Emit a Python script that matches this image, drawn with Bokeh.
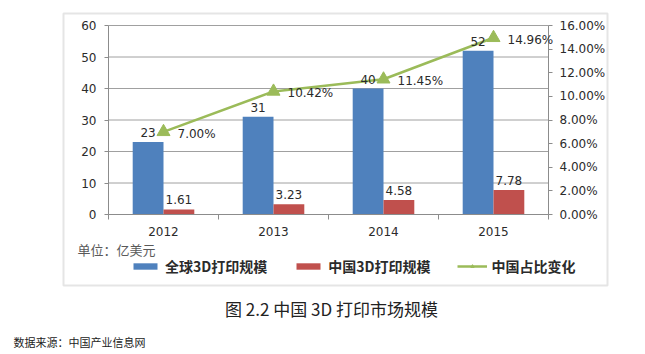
from bokeh.plotting import figure
from bokeh.models import (Range1d, LinearAxis, FixedTicker, PrintfTickFormatter,
                          ColumnDataSource, LabelSet, Label, Legend, LegendItem, BoxAnnotation)
from bokeh.core.properties import value
from bokeh.embed import file_html
from bokeh.resources import INLINE

# ---- data ----
years = [2012, 2013, 2014, 2015]
global_size = [23, 31, 40, 52]            # 全球3D打印规模 (亿美元)
china_size = [1.61, 3.23, 4.58, 7.78]     # 中国3D打印规模 (亿美元)
china_share = [7.00, 10.42, 11.45, 14.96] # 中国占比变化 (%)
global_labels = ["23", "31", "40", "52"]
china_labels = ["1.61", "3.23", "4.58", "7.78"]
share_labels = ["7.00%", "10.42%", "11.45%", "14.96%"]
left_ticks = [0, 10, 20, 30, 40, 50, 60]
right_ticks = [0, 2, 4, 6, 8, 10, 12, 14, 16]
series_names = ["全球3D打印规模", "中国3D打印规模", "中国占比变化"]
title_text = "图 2.2 中国 3D 打印市场规模"
unit_text = "单位：亿美元"
source_text = "数据来源：中国产业信息网"

BLUE, RED, GREEN = "#4f81bd", "#c0504d", "#9bbb59"
AX = "#8c8c8c"
TXT = "#2b2b2b"
NUMFONT = "DejaVu Sans"
CJK = "Noto Sans CJK SC"

W, H = 645, 354
L, R, T, B = 108, 548, 25, 214   # inner plot area edges (pixels, from top-left)
BW = 0.28

# map the whole canvas as the frame; the inner plot area sits where the reference has it
x0, x1 = years[0] - 0.5, years[-1] + 0.5
pxx = (R - L) / (x1 - x0)
y0, y1 = left_ticks[0], left_ticks[-1]
pxy = (B - T) / (y1 - y0)
r0, r1 = right_ticks[0], right_ticks[-1]
pxr = (B - T) / (r1 - r0)

src = ColumnDataSource(dict(
    year=years, g=global_size, c=china_size, s=china_share,
    xg=[y - BW / 2 for y in years], xc=[y + BW / 2 for y in years],
    gl=global_labels, cl=china_labels, sl=share_labels,
))

p = figure(width=W, height=H, output_backend="svg", toolbar_location=None, title=None,
           x_range=Range1d(x0 - L / pxx, x1 + (W - R) / pxx),
           y_range=Range1d(y0 - (H - B) / pxy, y1 + T / pxy),
           min_border=0, min_border_left=0, min_border_right=0,
           min_border_top=0, min_border_bottom=0)
p.extra_y_ranges = {"pct": Range1d(r0 - (H - B) / pxr, r1 + T / pxr)}
p.outline_line_color = None
p.background_fill_color = "white"
p.border_fill_color = "white"
p.xgrid.visible = False
p.ygrid.visible = False

# horizontal gridlines across the plot area
p.segment(x0=[x0] * len(left_ticks), x1=[x1] * len(left_ticks), y0=left_ticks, y1=left_ticks,
          line_color="#a0a0a0", line_width=1)

# bars
rg = p.vbar(x="xg", top="g", width=BW, source=src, fill_color=BLUE, line_color=None)
rc = p.vbar(x="xc", top="c", width=BW, source=src, fill_color=RED, line_color=None)
# line
rl = p.line("year", "s", source=src, y_range_name="pct", line_color=GREEN, line_width=2.5)
rs = p.scatter("year", "s", source=src, y_range_name="pct", marker="triangle", size=13,
               fill_color=GREEN, line_color=GREEN)

# axes
xa = p.xaxis[0]
xa.fixed_location = y0
xa.bounds = (x0, x1)
xa.ticker = FixedTicker(ticks=years, minor_ticks=[y - 0.5 for y in years] + [years[-1] + 0.5])
xa.formatter = PrintfTickFormatter(format="%d")
xa.major_tick_line_color = None
xa.major_tick_out = 0
xa.major_tick_in = 0
xa.minor_tick_line_color = AX
xa.minor_tick_out = 5
xa.minor_tick_in = 0
xa.axis_line_color = AX
xa.major_label_standoff = 7

ya = p.yaxis[0]
ya.fixed_location = x0
ya.bounds = (y0, y1)
ya.ticker = FixedTicker(ticks=left_ticks)
ya.minor_tick_line_color = None
ya.major_tick_out = 4
ya.major_tick_in = 0
ya.major_tick_line_color = AX
ya.axis_line_color = AX
ya.major_label_standoff = 8

ra = LinearAxis(y_range_name="pct", ticker=FixedTicker(ticks=right_ticks),
                formatter=PrintfTickFormatter(format="%.2f%%"))
ra.fixed_location = x1
ra.bounds = (r0, r1)
ra.minor_tick_line_color = None
ra.major_tick_out = 4
ra.major_tick_in = 0
ra.major_tick_line_color = AX
ra.axis_line_color = AX
ra.major_label_standoff = 7
p.add_layout(ra, "right")

for a in (xa, ya, ra):
    a.major_label_text_font = NUMFONT
    a.major_label_text_font_size = "12px"
    a.major_label_text_color = TXT

# data labels
common = dict(text_font=value(NUMFONT), text_font_size=value("12px"), text_color=TXT, source=src)
p.add_layout(LabelSet(x="xg", y="g", text="gl", text_align="center", text_baseline="bottom",
                      y_offset=5, **common))
p.add_layout(LabelSet(x="xc", y="c", text="cl", text_align="center", text_baseline="bottom",
                      y_offset=5, **common))
p.add_layout(LabelSet(x="year", y="s", text="sl", y_range_name="pct", text_align="left",
                      text_baseline="middle", x_offset=14, y_offset=-2, **common))

# outer chart frame
p.add_layout(BoxAnnotation(left=63, right=607, top=H - 13, bottom=H - 285,
                           left_units="screen", right_units="screen",
                           top_units="screen", bottom_units="screen",
                           fill_alpha=0, line_color="#aaaaaa", line_width=2))

# legend
legend = Legend(items=[LegendItem(label=series_names[0], renderers=[rg]),
                       LegendItem(label=series_names[1], renderers=[rc]),
                       LegendItem(label=series_names[2], renderers=[rl, rs])],
                location=(130, H - 276), orientation="horizontal",
                glyph_width=30, glyph_height=8, label_standoff=5, spacing=26,
                padding=0, margin=0, border_line_color=None, background_fill_alpha=0,
                label_text_font=CJK, label_text_font_size="14px",
                label_text_font_style="bold", label_text_color=TXT, label_height=14)
p.add_layout(legend)

# texts outside the plot area
p.add_layout(Label(x=77, y=H - 249, x_units="screen", y_units="screen", text=unit_text,
                   text_font=CJK, text_font_size="13px", text_color="#595959",
                   text_baseline="middle", text_align="left"))
p.add_layout(Label(x=331, y=H - 308, x_units="screen", y_units="screen", text=title_text,
                   text_font=CJK, text_font_size="17px", text_color="#222222",
                   text_baseline="middle", text_align="center"))
p.add_layout(Label(x=13, y=H - 341, x_units="screen", y_units="screen", text=source_text,
                   text_font=CJK, text_font_size="11px", text_color="#222222",
                   text_baseline="middle", text_align="left"))

open("out.html", "w").write(file_html(p, INLINE))
